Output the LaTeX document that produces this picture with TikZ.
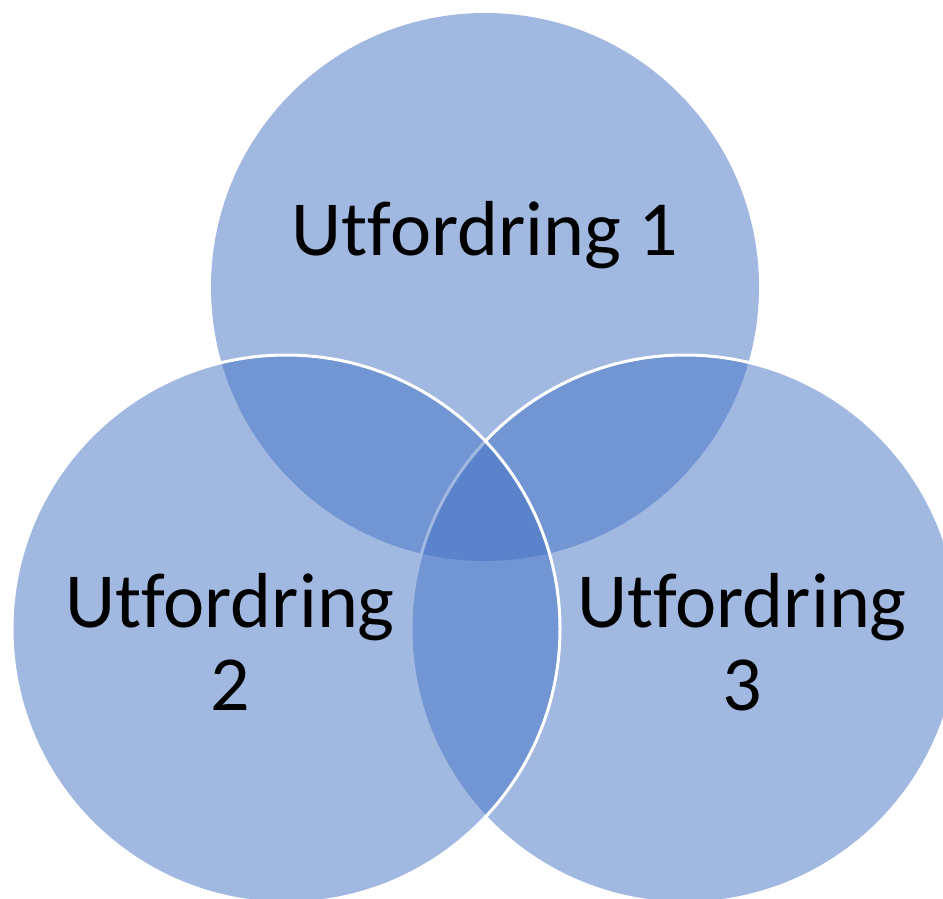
\documentclass[tikz,border=0pt]{standalone}
\usepackage{fontspec}
\setmainfont[Ligatures={NoCommon}]{Carlito}
\definecolor{vblue}{HTML}{4472C4}
\begin{document}
\begin{tikzpicture}[x=1pt,y=-1pt,
  venn/.style={circle,fill=vblue,fill opacity=0.5,minimum size=548pt,inner sep=0pt},
  vedge/.style={venn,draw=white,line width=3pt,draw opacity=1},
  lbl/.style={font=\fontsize{78}{83}\selectfont,align=center,text=black,anchor=base}]
\useasboundingbox (0,0) rectangle (943,898);
\node[venn] (c1) at (485,287) {};
\node[vedge] (c3) at (685,629) {};
\node[vedge] (c2) at (286,629) {};
\node[lbl] (t1) at (485,255) {Utfordring 1};
\node[lbl] (t2) at (230,710) {Utfordring\\2};
\node[lbl] (t3) at (742,710) {Utfordring\\3};
\end{tikzpicture}
\end{document}
